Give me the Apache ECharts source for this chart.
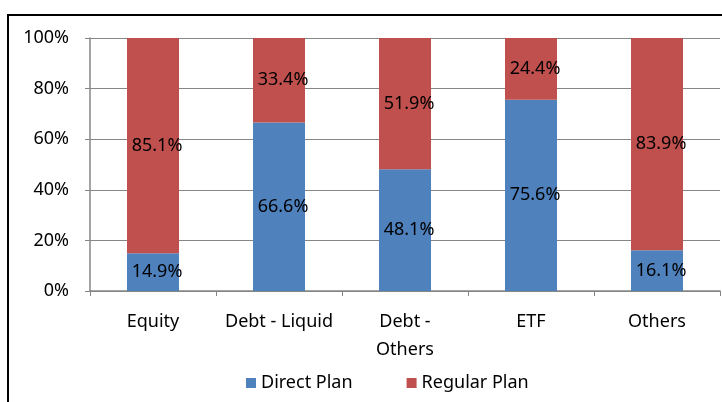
<!DOCTYPE html>
<html>
<head>
<meta charset="utf-8">
<script src="https://cdn.jsdelivr.net/npm/echarts@6/dist/echarts.min.js"></script>
<style>
  html, body { margin: 0; padding: 0; background: #fff; overflow: hidden; }
  #frame { position: absolute; left: 7px; top: 14px; width: 800px; height: 500px; border: 2px solid #000; box-sizing: border-box; }
  #chart { position: absolute; left: 0; top: 0; width: 722px; height: 402px; }
</style>
</head>
<body>
<div id="frame"></div>
<div id="chart"></div>
<script>
// fund categories and share of each plan (%)
const categories = ['Equity', 'Debt - Liquid', 'Debt - Others', 'ETF', 'Others'];
const directPlan = [14.9, 66.6, 48.1, 75.6, 16.1];
const regularPlan = [85.1, 33.4, 51.9, 24.4, 83.9];
const yTicks = [0, 20, 40, 60, 80, 100];

const font = "'Noto Sans', sans-serif";

const chart = echarts.init(document.getElementById('chart'));

const labelStyle = {
  show: true,
  position: 'inside',
  offset: [4, 0],
  color: '#000',
  fontSize: 18,
  fontFamily: font,
  formatter: p => p.value.toFixed(1) + '%'
};

chart.setOption({
  animation: false,
  grid: { left: 90, right: 2, top: 38, bottom: 111 },
  legend: {
    bottom: 5,
    left: 241,
    itemWidth: 10,
    itemHeight: 10,
    itemGap: 54,
    icon: 'rect',
    textStyle: { fontSize: 18, fontFamily: font, color: '#000' },
    data: ['Direct Plan', 'Regular Plan']
  },
  xAxis: {
    type: 'category',
    data: categories,
    axisLine: { lineStyle: { color: '#868686', width: 1.5 } },
    axisTick: { show: true, interval: 0, length: 5, lineStyle: { color: '#868686' } },
    axisLabel: {
      interval: 0,
      margin: 17,
      fontSize: 18,
      lineHeight: 28,
      fontFamily: font,
      color: '#000',
      formatter: v => v === 'Debt - Others' ? 'Debt -\nOthers' : v
    }
  },
  yAxis: {
    type: 'value',
    min: yTicks[0],
    max: yTicks[yTicks.length - 1],
    interval: 20,
    axisLine: { show: true, lineStyle: { color: '#868686', width: 1.5 } },
    axisTick: { show: true, length: 5, lineStyle: { color: '#868686' } },
    splitLine: { lineStyle: { color: '#868686', width: 1.2 } },
    axisLabel: {
      margin: 21,
      fontSize: 18,
      fontFamily: font,
      color: '#000',
      formatter: v => v + '%'
    }
  },
  series: [
    {
      name: 'Direct Plan',
      type: 'bar',
      stack: 'total',
      barWidth: 52,
      itemStyle: { color: '#4F81BD' },
      label: labelStyle,
      data: directPlan
    },
    {
      name: 'Regular Plan',
      type: 'bar',
      stack: 'total',
      barWidth: 52,
      itemStyle: { color: '#C0504D' },
      label: labelStyle,
      data: regularPlan
    }
  ]
});
</script>
</body>
</html>
